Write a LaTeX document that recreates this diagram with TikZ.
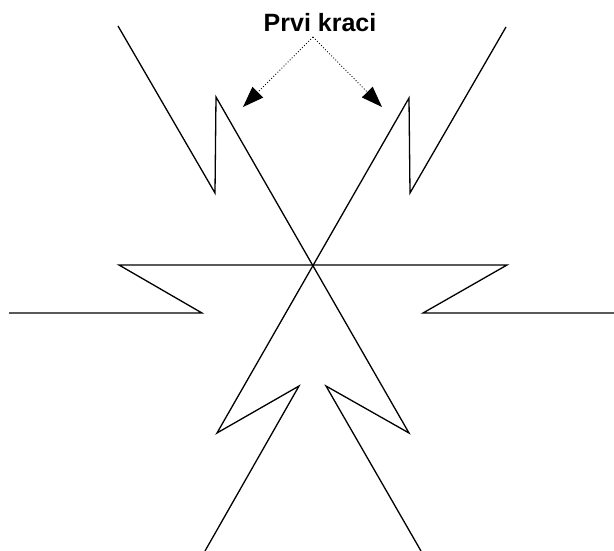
\documentclass[tikz,border=0pt]{standalone}
\usepackage{fontspec}
\setmainfont{Liberation Sans}
\usetikzlibrary{arrows.meta}
\begin{document}
\begin{tikzpicture}[x=1pt,y=-1pt,
  leg/.style={line width=1.3pt,line join=miter},
  pointer/.style={dotted,line width=0.9pt,-{Triangle[length=21pt,width=15pt]}},
  lbl/.style={font=\bfseries\fontsize{25}{29}\selectfont,inner sep=0pt,anchor=base}]
\useasboundingbox (0,0) rectangle (614,551);
% first path
\coordinate (a1) at (118,26);
\coordinate (a2) at (215,193);
\coordinate (a3) at (216,97);
\coordinate (a4) at (409,433);
\coordinate (a5) at (326,386);
\coordinate (a6) at (421,551);
% second path
\coordinate (b1) at (506,27);
\coordinate (b2) at (410,193);
\coordinate (b3) at (409,98);
\coordinate (b4) at (217,433);
\coordinate (b5) at (299,386);
\coordinate (b6) at (205,551);
% horizontal path
\coordinate (c1) at (9,313);
\coordinate (c2) at (202,313);
\coordinate (c3) at (119,265);
\coordinate (c4) at (507,265);
\coordinate (c5) at (423,313);
\coordinate (c6) at (614,313);
\draw[leg] (a1) -- (a2) -- (a3) -- (a4) -- (a5) -- (a6);
\draw[leg] (b1) -- (b2) -- (b3) -- (b4) -- (b5) -- (b6);
\draw[leg] (c1) -- (c2) -- (c3) -- (c4) -- (c5) -- (c6);
% label and pointers
\node[lbl] (t) at (320,32) {Prvi kraci};
\coordinate (apex) at (313,37);
\coordinate (tipL) at (243,107);
\coordinate (tipR) at (382,107);
\draw[pointer] (apex) -- (tipL);
\draw[pointer] (apex) -- (tipR);
\end{tikzpicture}
\end{document}
